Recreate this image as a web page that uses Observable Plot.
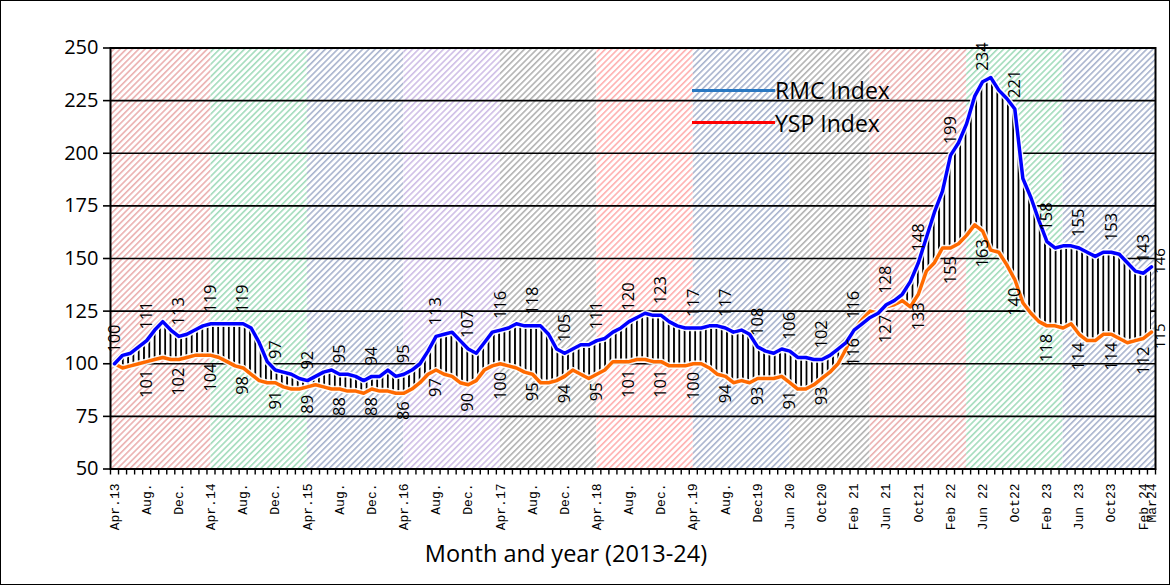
<!DOCTYPE html>
<html><head><meta charset="utf-8">
<script src="https://cdn.jsdelivr.net/npm/d3@7"></script>
<script src="https://cdn.jsdelivr.net/npm/@observablehq/plot@0.6"></script>
<style>
html,body{margin:0;padding:0;background:#fff;}
#wrap{position:relative;width:1170px;height:585px;overflow:hidden;background:#fff;}
#border{position:absolute;left:0;top:0;width:1170px;height:585px;box-sizing:border-box;border:1px solid #000;pointer-events:none;}
#legend{position:absolute;left:692px;top:74px;font-family:"Open Sans";font-size:23px;color:#000;}
.row{display:flex;align-items:center;height:32.5px;line-height:32px;white-space:nowrap;}
.sw{display:inline-block;width:83px;height:3px;}
#xtitle{position:absolute;left:0;width:1132px;top:542px;text-align:center;font-family:"Open Sans";font-size:23.5px;line-height:23.5px;color:#000;}
</style></head>
<body>
<div id="wrap">
  <div id="chart"></div>
  <div id="legend"></div>
  <div id="xtitle"></div>
  <div id="border"></div>
</div>
<script>
// ---- data ----
const rmc = [100,104,105,108,111,116,120,116,113,114,116,118,119,119,119,119,119,117,110,101,
  97,96,95,93,92,94,96,97,95,95,94,92,94,94,97,94,95,97,100,106,
  113,114,115,111,107,105,110,115,116,117,119,118,118,118,114,107,105,107,109,109,
  111,112,115,117,120,122,124,123,123,120,118,117,117,117,118,118,117,115,116,114,
  108,106,105,107,106,103,103,102,102,104,107,110,116,119,122,124,128,130,133,139,
  148,160,172,182,199,205,214,227,234,236,230,226,221,188,179,168,158,155,156,156,
  155,153,151,153,153,152,148,144,143,146];
const ysp = [100,98,99,100,101,102,103,102,102,103,104,104,104,103,101,99,98,95,92,91,
  91,89,88,88,89,90,89,88,88,87,87,86,88,87,87,86,86,88,91,95,
  97,95,94,91,90,92,97,99,100,99,98,96,95,91,91,92,94,97,95,93,
  95,97,101,101,101,102,102,101,101,99,99,99,100,100,98,95,94,91,92,91,
  93,93,93,94,91,88,88,90,93,96,100,107,116,121,125,124,127,128,130,127,
  133,144,148,155,155,157,161,166,163,154,153,147,140,129,124,120,118,118,117,119,
  114,111,111,114,114,112,110,111,112,115];
const seriesNames = ["RMC Index", "YSP Index"];
const tickIdx = [...d3.range(0, 129, 4), 129];
const tickText = ["Apr.13","Aug.","Dec.","Apr.14","Aug.","Dec.","Apr.15","Aug.","Dec.","Apr.16","Aug.","Dec.",
  "Apr.17","Aug.","Dec.","Apr.18","Aug.","Dec.","Apr.19","Aug.","Dec19","Jun 20","Oct20","Feb 21","Jun 21",
  "Oct21","Feb 22","Jun 22","Oct22","Feb 23","Jun 23","Oct23","Feb 24","Mar24"];
const fyStart = [0,12,24,36,48,60,72,84,94,106,118];
const fyPattern = ["red","green","blue","purple","gray","rose","blue","gray","red","green","blue"];
const yTicks = [50,75,100,125,150,175,200,225,250];
const labelIdx = d3.range(0, 129, 4);
const endIdx = [129];
const xTitle = "Month and year (2013-24)";

// ---- build ----
const data = rmc.map((v, i) => ({i, rmc: v, ysp: ysp[i]}));
const n = data.length;
const bands = fyStart.map((s, k) => ({
  x1: k === 0 ? -0.5 : s,
  x2: k < fyStart.length - 1 ? fyStart[k + 1] : n - 0.5,
  pat: fyPattern[k]
}));
const rmcLab = data.filter(d => labelIdx.includes(d.i));
const yspLab = data.filter(d => labelIdx.includes(d.i) && d.i > 0);
const endLab = data.filter(d => endIdx.includes(d.i));

const chart = Plot.plot({
  width: 1170, height: 585,
  marginLeft: 110, marginRight: 15, marginTop: 47.5, marginBottom: 116.5,
  style: {fontFamily: "Open Sans", fontSize: "16px", color: "black", background: "transparent", overflow: "visible"},
  x: {domain: [-0.5, n - 0.5]},
  y: {domain: [50, 250]},
  marks: [
    ...bands.map(b => Plot.rect([b], {x1: "x1", x2: "x2", y1: 50, y2: 250, fill: `url(#hatch-${b.pat})`})),
    Plot.ruleY(yTicks, {stroke: "black", strokeWidth: 1.6}),
    Plot.areaY(data, {x: "i", y1: "ysp", y2: d => Math.max(d.rmc, d.ysp), fill: "url(#vstripe)"}),
    Plot.line(data, {x: "i", y: "ysp", stroke: "white", strokeWidth: 6.5, strokeOpacity: 0.9}),
    Plot.line(data, {x: "i", y: "ysp", stroke: "#FF6A00", strokeWidth: 3.5}),
    Plot.line(data, {x: "i", y: "rmc", stroke: "white", strokeWidth: 6.5, strokeOpacity: 0.9}),
    Plot.line(data, {x: "i", y: "rmc", stroke: "#0000FF", strokeWidth: 3.5}),
    Plot.frame({stroke: "black", strokeWidth: 2}),
    Plot.axisY({ticks: yTicks, tickSize: 7, tickPadding: 5, fontSize: 20, label: null, strokeWidth: 1.6}),
    Plot.axisX({ticks: d3.range(0, n + 1).map(v => v - 0.5), tickSize: 6, tickFormat: () => "", label: null, strokeWidth: 1.4}),
    Plot.text(tickIdx, {x: d => d, frameAnchor: "bottom", text: d => tickText[tickIdx.indexOf(d)],
      rotate: -90, textAnchor: "end", lineAnchor: "middle", dy: 14.5,
      fontFamily: "Liberation Mono", fontSize: 13, fill: "black"}),
    Plot.text(rmcLab, {x: "i", y: "rmc", text: d => String(d.rmc), rotate: -90, textAnchor: "start",
      lineAnchor: "middle", dy: -11, fontSize: 16.5, fill: "black"}),
    Plot.text(yspLab, {x: "i", y: "ysp", text: d => String(d.ysp), rotate: -90, textAnchor: "end",
      lineAnchor: "middle", dy: 8, fontSize: 16.5, fill: "black"}),
    Plot.text(endLab, {x: "i", y: "rmc", text: d => String(d.rmc), rotate: -90, textAnchor: "middle",
      lineAnchor: "middle", dx: 8.5, dy: -6, fontSize: 15, fill: "black"}),
    Plot.text(endLab, {x: "i", y: "ysp", text: d => String(d.ysp), rotate: -90, textAnchor: "middle",
      lineAnchor: "middle", dx: 8.5, dy: 4, fontSize: 15, fill: "black"})
  ]
});

const hatchColors = {red: "#EBB0B0", green: "#A3DCBC", blue: "#A9B4CE", purple: "#CFBEE6", gray: "#B3B3B3", rose: "#FFB0B0"};
let defs = "";
for (const [k, c] of Object.entries(hatchColors)) {
  defs += `<pattern id="hatch-${k}" patternUnits="userSpaceOnUse" width="4.4" height="4.4" patternTransform="rotate(45)">
    <rect width="4.4" height="4.4" fill="white"/><rect width="1.6" height="4.4" fill="${c}"/></pattern>`;
}
defs += `<pattern id="vstripe" patternUnits="userSpaceOnUse" width="5.3" height="10">
  <rect width="5.3" height="10" fill="white"/><rect width="1.8" height="10" fill="black"/></pattern>`;
d3.select(chart).insert("defs", ":first-child").html(defs);
document.getElementById("chart").appendChild(chart);

// legend & title (HTML)
const legendColors = ["#2A78C2", "#FF0000"];
const lg = d3.select("#legend");
seriesNames.forEach((name, k) => {
  const row = lg.append("div").attr("class", "row");
  row.append("span").attr("class", "sw").style("background", legendColors[k]);
  row.append("span").text(name);
});
d3.select("#xtitle").text(xTitle);
</script>
</body></html>
